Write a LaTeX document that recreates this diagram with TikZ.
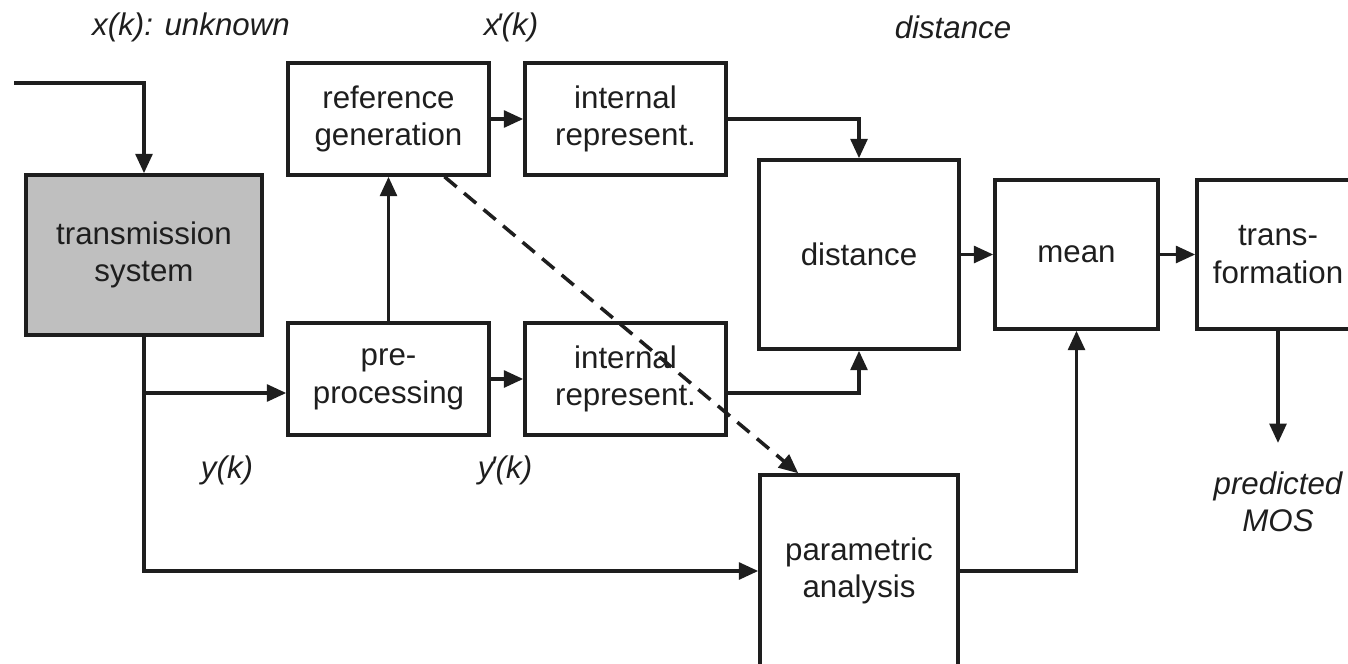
\documentclass[tikz,border=0pt]{standalone}
\usepackage{fontspec}
\setmainfont{Liberation Sans}
\usepackage{tikz}
\usetikzlibrary{
  	positioning,
  	arrows.meta,
  	calc
  }
\definecolor{ink}{HTML}{1E1E1E}
\tikzstyle{block}=[rectangle, draw=ink, line width=2pt, align=center, inner sep=0pt, text=ink, font=\fontsize{17.8}{21.5}\selectfont]
\tikzstyle{lbl}=[inner sep=0pt, text=ink, font=\fontsize{17.8}{21.5}\selectfont\itshape, align=center]
\tikzstyle{sig}=[draw=ink, line width=2pt, -{Triangle[length=11pt,width=9.5pt]}]

\begin{document}
\begin{tikzpicture}[x=0.02cm, y=-0.02cm]
	\useasboundingbox (0,0) rectangle (1348,663);
	\clip (0,0) rectangle (1348,663);
	% blocks
  	\node[block, fill=black!25, minimum width=4.72cm, minimum height=3.2cm] (trans) at (144,255) {transmission\\system};
  	\node[block, minimum width=4.02cm, minimum height=2.24cm] (refgen) at (388.5,119) {reference\\generation};
  	\node[block, minimum width=4.02cm, minimum height=2.24cm] (irtop) at (625.5,119) {internal\\represent.};
  	\node[block, minimum width=4.02cm, minimum height=2.24cm] (pre) at (388.5,379) {pre-\\processing};
  	\node[block, minimum width=4.02cm, minimum height=2.24cm] (irbot) at (625.5,379) {internal\\represent.};
  	\node[block, minimum width=4cm, minimum height=3.78cm] (dist) at (859,254.5) {distance};
  	\node[block, minimum width=3.26cm, minimum height=2.98cm] (mean) at (1076.5,254.5) {mean};
  	\node[block, minimum width=3.24cm, minimum height=2.98cm] (transf) at (1278,254.5) {trans-\\formation};
  	\node[block, minimum width=3.96cm, minimum height=3.84cm] (param) at (859,571) {parametric\\analysis};
	% labels
		\node[lbl] (xk) at (191,27) {x(k): unknown};
		\node[lbl] (xpk) at (511,27) {x\kern-0.12em\textquotesingle(k)};
		\node[lbl] (dlbl) at (953,27) {distance};
		\node[lbl] (yk) at (227,470) {y(k)};
		\node[lbl] (ypk) at (505,470) {y\kern-0.12em\textquotesingle(k)};
		\coordinate (in) at (14,83);
		\coordinate (ysplit) at (144,393);
		\coordinate (mos) at (1278,443);
		\node[lbl, below=16pt of mos] (moslbl) {predicted\\MOS};
	% connections
		\draw[sig] (in) -| (trans.north);
		\draw[sig] (trans.south) |- (param.west);
		\draw[sig] (ysplit) -- (ysplit -| pre.west);
		\draw[sig] (pre.north) -- (refgen.south);
		\draw[sig] (refgen.east) -- (irtop.west);
		\draw[sig] (pre.east) -- (irbot.west);
		\draw[sig] (irtop.east) -| (dist.north);
		\draw[sig] (irbot.east |- ysplit) -| (dist.south);
		\draw[sig] (dist.east) -- (mean.west);
		\draw[sig] (mean.east) -- (transf.west);
		\draw[sig] (param.east) -| (mean.south);
		\draw[sig] (transf.south) -- (mos);
		\draw[sig, dash pattern=on 9pt off 5.5pt] ($(refgen.south)+(56,0)$) -- ($(param.north west)+(40,0)$);
  \end{tikzpicture}
\end{document}
